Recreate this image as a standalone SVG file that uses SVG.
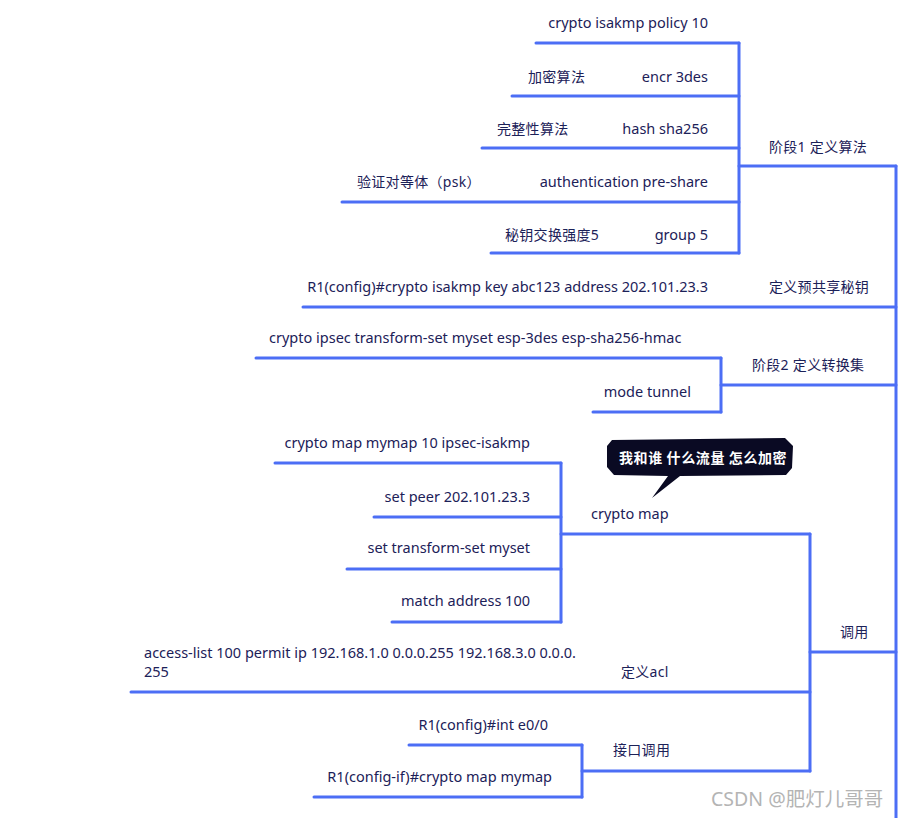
<svg xmlns="http://www.w3.org/2000/svg" width="898" height="818" viewBox="0 0 898 818">
<style>
.t{font-family:"Noto Sans","Noto Sans CJK SC",sans-serif;font-size:14.5px;fill:#1c2158}
.c{font-size:14px;letter-spacing:0.3px}
.e{text-anchor:end}
.ln{stroke:#4c6ef5;stroke-width:3;fill:none;stroke-linecap:round;stroke-linejoin:round}
.b{font-family:"Noto Sans CJK SC","Noto Sans",sans-serif;font-size:14px;font-weight:bold;fill:#ffffff;letter-spacing:0.6px}
.w{font-family:"Noto Sans","Noto Sans CJK SC",sans-serif;font-size:19.5px;fill:#b4b4b4}
</style>
<rect width="898" height="818" fill="#ffffff"/>
<g id="connectors">
<path class="ln" d="M739 43 V253"/>
<path class="ln" d="M739 166 H896"/>
<path class="ln" d="M896 166 V818"/>
<path class="ln" d="M721 358 V412"/>
<path class="ln" d="M721 385 H896"/>
<path class="ln" d="M561 463 V622"/>
<path class="ln" d="M561 534 H810"/>
<path class="ln" d="M810 534 V771"/>
<path class="ln" d="M810 652 H896"/>
<path class="ln" d="M582 745 V797"/>
<path class="ln" d="M582 771 H810"/>
</g>
<g id="n-policy"><path class="ln" d="M536 43 H739"/><text class="t e" x="708" y="28">crypto isakmp policy 10</text></g>
<g id="n-encr"><path class="ln" d="M512 96 H739"/><text class="t c" x="528" y="82">加密算法</text><text class="t e" x="708" y="82">encr 3des</text></g>
<g id="n-hash"><path class="ln" d="M482 148 H739"/><text class="t c" x="497" y="134">完整性算法</text><text class="t e" x="708" y="134">hash sha256</text></g>
<g id="n-auth"><path class="ln" d="M342 202 H739"/><text class="t c" x="357" y="187">验证对等体（psk）</text><text class="t e" x="708" y="187">authentication pre-share</text></g>
<g id="n-group"><path class="ln" d="M491 253 H739"/><text class="t c" x="505" y="240">秘钥交换强度5</text><text class="t e" x="708" y="240">group 5</text></g>
<g id="n-phase1"><text class="t c" x="769" y="152">阶段1  定义算法</text></g>
<g id="n-key"><path class="ln" d="M303 307 H896"/><text class="t e" x="708" y="292">R1(config)#crypto isakmp key abc123 address 202.101.23.3</text><text class="t c" x="769" y="292">定义预共享秘钥</text></g>
<g id="n-transform"><path class="ln" d="M256 358 H721"/><text class="t" x="269" y="343">crypto ipsec transform-set myset esp-3des esp-sha256-hmac</text></g>
<g id="n-mode"><path class="ln" d="M593 412 H721"/><text class="t e" x="691" y="397">mode tunnel</text></g>
<g id="n-phase2"><text class="t c" x="752" y="370">阶段2  定义转换集</text></g>
<g id="n-cmap10"><path class="ln" d="M275 463 H561"/><text class="t e" x="530" y="448">crypto map mymap 10 ipsec-isakmp</text></g>
<g id="n-peer"><path class="ln" d="M374 517 H561"/><text class="t e" x="530" y="502">set peer 202.101.23.3</text></g>
<g id="n-tset"><path class="ln" d="M347 569 H561"/><text class="t e" x="530" y="553">set transform-set myset</text></g>
<g id="n-match"><path class="ln" d="M392 622 H561"/><text class="t e" x="530" y="606">match address 100</text></g>
<g id="n-cryptomap"><text class="t" x="591" y="519">crypto map</text></g>
<g id="n-bubble">
<path d="M612 440 L785 438 L793 446 L792 468 L786 475 L680 476 L652 498 L668 476 L614 475 L607 467 L607 446 Z" fill="#0a0a23"/>
<text class="b" x="619" y="463">我和谁 什么流量 怎么加密</text>
</g>
<g id="n-acl"><path class="ln" d="M131 692 H810"/><text class="t" x="144" y="658">access-list 100 permit ip 192.168.1.0 0.0.0.255 192.168.3.0 0.0.0.</text><text class="t" x="144" y="677">255</text><text class="t c" x="621" y="677">定义acl</text></g>
<g id="n-call"><text class="t c" x="840" y="637">调用</text></g>
<g id="n-int"><path class="ln" d="M409 745 H582"/><text class="t e" x="548" y="730">R1(config)#int e0/0</text></g>
<g id="n-ifmap"><path class="ln" d="M314 797 H582"/><text class="t e" x="552" y="782">R1(config-if)#crypto map mymap</text></g>
<g id="n-ifcall"><text class="t c" x="613" y="755">接口调用</text></g>
<text class="w" x="711" y="806">CSDN @肥灯儿哥哥</text>
</svg>
